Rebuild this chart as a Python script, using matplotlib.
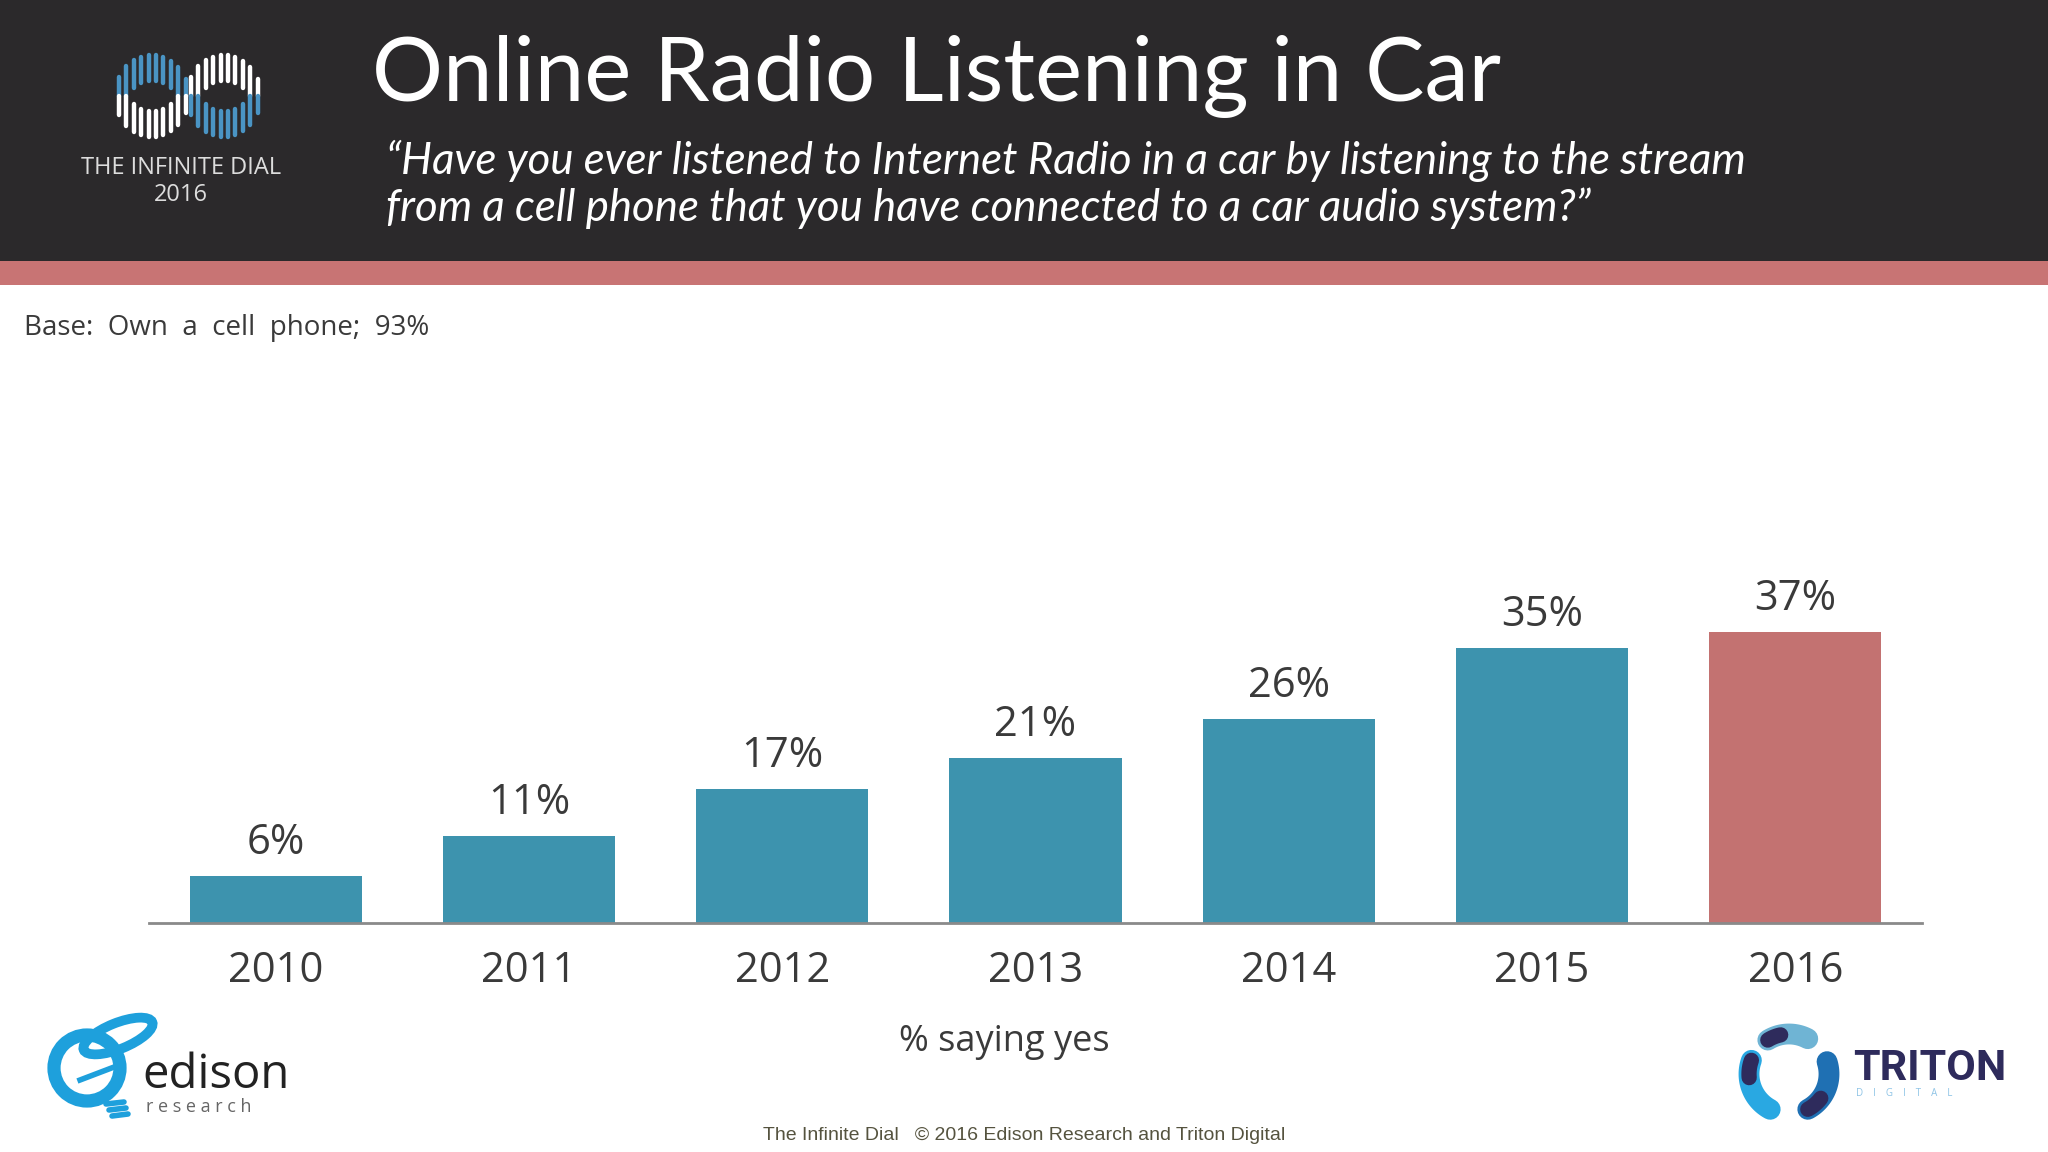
import matplotlib
matplotlib.use("Agg")
import matplotlib.pyplot as plt
import numpy as np
from matplotlib.patches import Rectangle, Ellipse, Circle

# data
years = ["2010", "2011", "2012", "2013", "2014", "2015", "2016"]
values = [6, 11, 17, 21, 26, 35, 37]
bar_colors = ["#3d93ae"] * 6 + ["#c37271"]

W, H = 2048, 1152
fig = plt.figure(figsize=(W / 100, H / 100), dpi=100)
fig.patch.set_facecolor("white")

# overlay in pixel coords for header, logos and footer
bg = fig.add_axes([0, 0, 1, 1])
bg.set_xlim(0, W)
bg.set_ylim(H, 0)
bg.axis("off")

bg.add_patch(Rectangle((0, 0), W, 261, color="#2b292b", lw=0))
bg.add_patch(Rectangle((0, 261), W, 24, color="#c87474", lw=0))

# title + subtitle
bg.text(372, 76, "Online Radio Listening in Car", color="white", fontsize=64,
        family="Lato", ha="left", va="center")
bg.text(386, 161, "\u201cHave you ever listened to Internet Radio in a car by listening to the stream",
        color="white", fontsize=31.5, family="Lato", style="italic", ha="left", va="center")
bg.text(386, 208, "from a cell phone that you have connected to a car audio system?\u201d",
        color="white", fontsize=31.5, family="Lato", style="italic", ha="left", va="center")

# infinite dial logo (bars around two loops)
def loop(cx, cy, top_col, bot_col):
    rx, ry, irx, iry = 37, 41, 22, 15
    for dx in np.arange(-33, 34, 7.4):
        yo = ry * np.sqrt(max(0, 1 - (dx / rx) ** 2))
        if abs(dx) < irx:
            yi = iry * np.sqrt(1 - (dx / irx) ** 2)
            bg.plot([cx + dx, cx + dx], [cy - yo, cy - yi], color=top_col, lw=3.2, solid_capstyle="round")
            bg.plot([cx + dx, cx + dx], [cy + yi, cy + yo], color=bot_col, lw=3.2, solid_capstyle="round")
        else:
            bg.plot([cx + dx, cx + dx], [cy - yo, cy], color=top_col, lw=3.2, solid_capstyle="round")
            bg.plot([cx + dx, cx + dx], [cy, cy + yo], color=bot_col, lw=3.2, solid_capstyle="round")

loop(152, 96, "#4a94c4", "white")
loop(224, 96, "white", "#4a94c4")
bg.text(181, 168, "THE INFINITE DIAL", color="#dddddd", fontsize=17, family="Open Sans",
        ha="center", va="center")
bg.text(181, 195, "2016", color="#dddddd", fontsize=17, family="Open Sans", ha="center", va="center")

# base note
bg.text(24, 328, "Base:  Own  a  cell  phone;  93%", color="#3a3a3a", fontsize=20,
        family="Open Sans", ha="left", va="center")

# edison logo
bg.add_patch(Circle((87, 1068), 33, fill=False, ec="#1ea0dc", lw=9.5))
bg.add_patch(Ellipse((118, 1036), 74, 26, angle=-22, fill=False, ec="#1ea0dc", lw=7))
bg.plot([80, 122], [1080, 1064], color="#1ea0dc", lw=4)
for i in range(3):
    bg.plot([106 + i * 3, 124 + i * 2], [1104 + i * 6, 1102 + i * 6], color="#1ea0dc", lw=4,
            solid_capstyle="round")
bg.text(142, 1088, "edison", color="#222222", fontsize=34, family="Open Sans",
        ha="left", va="baseline")
bg.text(146, 1112, "r e s e a r c h", color="#666666", fontsize=13, family="Open Sans",
        ha="left", va="baseline")

# triton logo: three leaf arcs around a circle
tc = (1789, 1074)
tr = 40
for a0, a1, col, dark_end in [(62, 122, "#6fb4d4", "start"), (160, 242, "#29a8e2", "end"),
                              (298, 378, "#1f70b3", "end")]:
    t = np.radians(np.linspace(a0, a1, 40))
    xs = tc[0] + tr * np.cos(t)
    ys = tc[1] - tr * np.sin(t)
    bg.plot(xs, ys, color=col, lw=15, solid_capstyle="round")
    if dark_end == "start":
        bg.plot(xs[26:], ys[26:], color="#2e2b5c", lw=11, solid_capstyle="round")
    else:
        bg.plot(xs[:13], ys[:13], color="#2e2b5c", lw=11, solid_capstyle="round")
bg.text(1853, 1068, "TRITON", color="#2e2b5c", fontsize=31, family="Roboto",
        weight="bold", ha="left", va="center")
bg.text(1856, 1093, "D    I    G    I    T    A    L", color="#8fc4e6", fontsize=7,
        family="Open Sans", ha="left", va="center")

# footer
bg.text(1024, 1136, "The Infinite Dial   \u00a9 2016 Edison Research and Triton Digital",
        color="#55533f", fontsize=14, family="Liberation Sans", ha="center", va="center")

# bar chart axes: baseline at y=922.7 px, 7.85 px per percent
base_px = 922.7
top_px = 300
ax = fig.add_axes([149 / W, (H - base_px) / H, (1922 - 149) / W, (base_px - top_px) / H])
ax.set_facecolor("none")
x = np.arange(len(years))
bars = ax.bar(x, values, width=0.68, color=bar_colors)
ax.set_xlim(-0.5, 6.5)
ax.set_ylim(0, (base_px - top_px) / 7.85)
for b, v in zip(bars, values):
    ax.annotate(f"{v}%", (b.get_x() + b.get_width() / 2, v), xytext=(0, 12),
                textcoords="offset pixels", ha="center", va="bottom",
                fontsize=30, color="#3a3a3a", family="Open Sans")
ax.set_xticks(x)
ax.set_xticklabels(years, fontsize=30, color="#3a3a3a", family="Open Sans")
ax.tick_params(axis="x", length=0, pad=20)
ax.set_yticks([])
for s in ["top", "right", "left"]:
    ax.spines[s].set_visible(False)
ax.spines["bottom"].set_color("#8a8a8a")
ax.spines["bottom"].set_linewidth(2)
ax.set_xlabel("% saying yes", fontsize=26, color="#3a3a3a", family="Open Sans")
ax.xaxis.set_label_coords((1004 - 149) / (1922 - 149), (base_px - 1042) / (base_px - top_px))
ax.xaxis.label.set_va("center")

fig.savefig("out.png", dpi=100)
